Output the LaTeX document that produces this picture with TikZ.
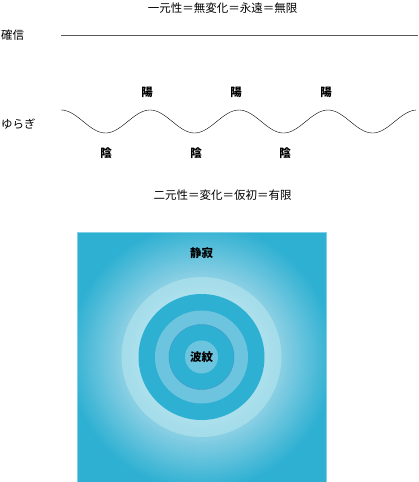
\documentclass[tikz,border=0pt]{standalone}
\usepackage{fontspec}
\setmainfont{Noto Sans CJK JP}
\usetikzlibrary{positioning}

\definecolor{deep}{RGB}{46,176,210}
\definecolor{lite}{RGB}{172,224,236}
\definecolor{haze}{RGB}{140,208,228}
\definecolor{mid}{RGB}{108,196,222}
\definecolor{rim}{RGB}{70,150,200}

\tikzset{
  lbl/.style={inner sep=0pt, font=\fontsize{11.5}{13}\selectfont},
  bold/.style={lbl, font=\fontsize{11.5}{13}\selectfont\bfseries},
}

\begin{document}
\begin{tikzpicture}[x=1pt, y=-1pt]
        \useasboundingbox (0,0) rectangle (419,482);
        % one
        \node (one) [lbl] at (222.5,8) {一元性＝無変化＝永遠＝無限};
        \node (conv) [lbl, anchor=west] at (1,35) {確信};
        \coordinate (s1) at (61,35);
        \coordinate[right=357pt of s1] (s2);
        \draw[black!65] (s1) -- (s2);
        % waves
        \node (sway) [lbl, anchor=west] at (1,124) {ゆらぎ};
        \draw plot[domain=61:416, samples=150, smooth] (\x, {121.5-11.5*cos((\x-61)/89*360)});
        \foreach \i [count=\xi from 1] in {147,236,326}
            \node (yang\xi) [bold] at (\i,92) {陽};
        \foreach \i [count=\xi from 1] in {106,196,285}
            \node (yin\xi) [bold] at (\i,153) {陰};
        % two
        \node (two) [lbl] at (222.5,195) {二元性＝変化＝仮初＝有限};
        % pond
        \coordinate (c) at (201.5,357);
        \begin{scope}
            \clip (77,232) rectangle (326,482);
            \fill[deep] (77,232) rectangle (326,482);
            \foreach \r in {134,132,...,80} {
                \pgfmathsetmacro\p{(\r-80)/54*100}
                \fill[deep!\p!haze] (c) circle (\r);
            }
            \foreach \r in {80,79,...,63} {
                \pgfmathsetmacro\p{(\r-63)/17*25}
                \fill[haze!\p!lite] (c) circle (\r);
            }
        \end{scope}
        \draw[deep!60!white, line width=0.5pt] (77,232) rectangle (326,482);
        \fill[deep] (c) circle (63);
        \fill[mid] (c) circle (46.5);
        \filldraw[fill=deep, draw=rim, line width=0.4pt] (c) circle (32.5);
        \fill[mid] (c) circle (16.5);
        \node (ripple) [bold] at (c) {波紋};
        \node (still) [bold] at (201.5,253) {静寂};
        %
\end{tikzpicture}
\end{document}
